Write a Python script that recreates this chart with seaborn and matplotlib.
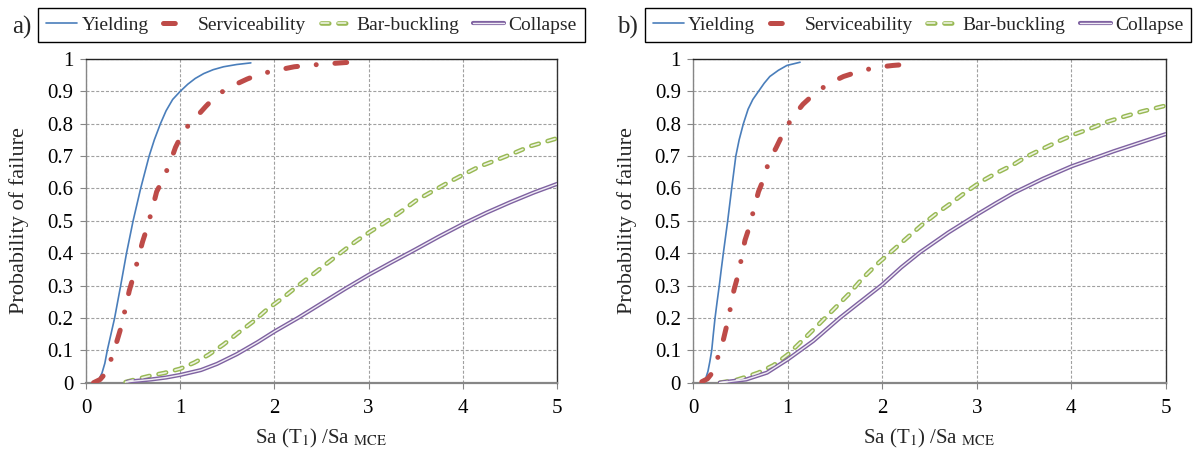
import matplotlib
matplotlib.use("Agg")
import matplotlib.pyplot as plt
import seaborn as sns
from matplotlib.lines import Line2D
from matplotlib.legend_handler import HandlerTuple

# ---------------- data ----------------
# panel a
ya_x = [0.10, 0.14, 0.17, 0.20, 0.226, 0.265, 0.304, 0.336, 0.368, 0.399, 0.43, 0.465, 0.50, 0.54, 0.58, 0.625, 0.67,
        0.725, 0.79, 0.85, 0.92, 1.00, 1.08, 1.16, 1.25, 1.35, 1.46, 1.60, 1.75]
ya_y = [0.002, 0.012, 0.03, 0.06, 0.10, 0.15, 0.20, 0.25, 0.30, 0.35, 0.40, 0.45, 0.50, 0.55, 0.60, 0.65, 0.70,
        0.75, 0.80, 0.84, 0.875, 0.90, 0.922, 0.94, 0.955, 0.967, 0.976, 0.983, 0.988]
sa_x = [0.08, 0.15, 0.21, 0.28, 0.33, 0.385, 0.42, 0.46, 0.51, 0.55, 0.60, 0.65, 0.70, 0.75, 0.82, 0.89, 0.95, 1.04,
        1.15, 1.27, 1.39, 1.54, 1.71, 1.85, 2.04, 2.21, 2.38, 2.56, 2.80]
sa_y = [0.0, 0.01, 0.03, 0.083, 0.13, 0.184, 0.233, 0.285, 0.335, 0.38, 0.435, 0.48, 0.533, 0.59, 0.63, 0.678, 0.727, 0.78,
        0.814, 0.853, 0.889, 0.915, 0.938, 0.954, 0.966, 0.976, 0.981, 0.985, 0.99]
ba_x = [0.42, 0.55, 0.69, 0.83, 1.00, 1.15, 1.30, 1.46, 1.62, 1.78, 1.92, 2.08, 2.24, 2.40, 2.56, 2.72, 2.86, 3.02, 3.16,
        3.34, 3.51, 3.67, 3.83, 4.00, 4.17, 4.36, 4.54, 4.72, 5.00]
ba_y = [0.002, 0.012, 0.022, 0.030, 0.043, 0.062, 0.086, 0.118, 0.155, 0.19, 0.226, 0.26, 0.297, 0.333, 0.369, 0.405,
        0.436, 0.467, 0.492, 0.528, 0.564, 0.590, 0.616, 0.642, 0.667, 0.688, 0.709, 0.731, 0.755]
ca_x = [0.44, 0.69, 0.85, 1.00, 1.22, 1.39, 1.60, 1.82, 2.00, 2.25, 2.50, 2.75, 3.00, 3.25, 3.50, 3.75, 4.00, 4.25,
        4.50, 4.75, 5.00]
ca_y = [0.003, 0.01, 0.016, 0.024, 0.039, 0.058, 0.088, 0.125, 0.158, 0.200, 0.245, 0.29, 0.333, 0.373, 0.412, 0.452,
        0.49, 0.525, 0.557, 0.587, 0.614]

# panel b
yb_x = [0.10, 0.13, 0.155, 0.175, 0.195, 0.212, 0.23, 0.252, 0.275, 0.296, 0.318, 0.341, 0.364, 0.385, 0.406, 0.428,
        0.45, 0.485, 0.53, 0.58, 0.63, 0.69, 0.75, 0.81, 0.90, 0.99, 1.13]
yb_y = [0.0, 0.012, 0.035, 0.065, 0.10, 0.15, 0.20, 0.25, 0.30, 0.35, 0.40, 0.45, 0.50, 0.55, 0.60, 0.65,
        0.70, 0.75, 0.80, 0.845, 0.875, 0.90, 0.925, 0.946, 0.965, 0.98, 0.99]
sb_x = [0.09, 0.15, 0.21, 0.265, 0.32, 0.36, 0.396, 0.43, 0.48, 0.512, 0.547, 0.60, 0.643, 0.69, 0.74, 0.80, 0.875,
        0.96, 1.05, 1.16, 1.29, 1.44, 1.59, 1.75, 1.93, 2.11, 2.28]
sb_y = [0.003, 0.012, 0.034, 0.083, 0.135, 0.184, 0.235, 0.286, 0.339, 0.388, 0.44, 0.487, 0.539, 0.59, 0.626, 0.684,
        0.725, 0.776, 0.82, 0.86, 0.895, 0.925, 0.946, 0.961, 0.974, 0.98, 0.984]
bb_x = [0.28, 0.45, 0.56, 0.69, 0.85, 1.00, 1.16, 1.32, 1.48, 1.64, 1.79, 1.94, 2.12, 2.28, 2.43, 2.58, 2.73, 2.89, 3.05,
        3.21, 3.39, 3.53, 3.70, 3.86, 4.04, 4.22, 4.39, 4.57, 4.75, 5.00]
bb_y = [0.0, 0.008, 0.018, 0.031, 0.054, 0.087, 0.132, 0.178, 0.225, 0.272, 0.322, 0.365, 0.411, 0.452, 0.49, 0.524,
        0.555, 0.59, 0.622, 0.648, 0.674, 0.699, 0.723, 0.745, 0.768, 0.787, 0.807, 0.823, 0.838, 0.856]
cb_x = [0.28, 0.56, 0.78, 1.00, 1.27, 1.55, 1.75, 2.00, 2.20, 2.40, 2.70, 3.00, 3.20, 3.39, 3.70, 4.00, 4.45, 5.00]
cb_y = [0.0, 0.01, 0.031, 0.072, 0.129, 0.20, 0.246, 0.303, 0.356, 0.403, 0.464, 0.519, 0.554, 0.586, 0.630, 0.668,
        0.715, 0.768]

series_names = ["Yielding", "Serviceability", "Bar-buckling", "Collapse"]
panel_labels = ["a)", "b)"]
x_ticks = [0, 1, 2, 3, 4, 5]
y_ticks = [0, 0.1, 0.2, 0.3, 0.4, 0.5, 0.6, 0.7, 0.8, 0.9, 1]
y_label = "Probability of failure"
x_label = r"Sa (T$_1$) /Sa $_{\mathrm{MCE}}$"

panels = [
    dict(y=(ya_x, ya_y), s=(sa_x, sa_y), b=(ba_x, ba_y), c=(ca_x, ca_y)),
    dict(y=(yb_x, yb_y), s=(sb_x, sb_y), b=(bb_x, bb_y), c=(cb_x, cb_y)),
]

# ---------------- style ----------------
sns.set_theme(style="white")
plt.rcParams["font.family"] = ["Liberation Serif", "DejaVu Serif"]
plt.rcParams["mathtext.fontset"] = "stix"
plt.rcParams["lines.scale_dashes"] = False

C_BLUE = "#4A7EBB"
C_RED = "#BE4B48"
C_GREEN = "#98B954"
C_GREEN_IN = "#EEF3E2"
C_PURPLE = "#7F62A1"
C_PURPLE_IN = "#F0ECF5"

W, H = 1195, 455
fig = plt.figure(figsize=(W / 100, H / 100), dpi=100)
bottom = (H - 382.7) / H
height = 323.7 / H
ax_a = fig.add_axes([86 / W, bottom, 471 / W, height])
ax_b = fig.add_axes([693.3 / W, bottom, 472.4 / W, height])
axes = [ax_a, ax_b]

legend_cx = [(311.5 - 86) / 471, (918 - 693.3) / 472.4]
ylabel_x = [(19 - 86) / 471, (627 - 693.3) / 472.4]
panel_label_x = [22, 627]

for i, (ax, d) in enumerate(zip(axes, panels)):
    ax.set_axisbelow(True)
    ax.grid(True, color="#A0A0A0", linestyle=(0, (2.2, 1.3)), linewidth=0.8)

    sns.lineplot(x=d["y"][0], y=d["y"][1], ax=ax, color=C_BLUE, linewidth=1.2,
                 estimator=None, sort=False, zorder=3)
    sns.lineplot(x=d["s"][0], y=d["s"][1], ax=ax, color=C_RED, linewidth=3.6,
                 linestyle=(0, (8.5, 13.5, 0.01, 13.5)), dash_capstyle="round",
                 estimator=None, sort=False, zorder=4)
    sns.lineplot(x=d["b"][0], y=d["b"][1], ax=ax, color=C_GREEN, linewidth=3.3,
                 linestyle=(0, (5.6, 6.6)), dash_capstyle="round",
                 estimator=None, sort=False, zorder=3)
    sns.lineplot(x=d["b"][0], y=d["b"][1], ax=ax, color=C_GREEN_IN, linewidth=1.2,
                 linestyle=(0, (5.6, 6.6)), dash_capstyle="round",
                 estimator=None, sort=False, zorder=3.1)
    sns.lineplot(x=d["c"][0], y=d["c"][1], ax=ax, color=C_PURPLE, linewidth=3.0,
                 estimator=None, sort=False, zorder=3)
    sns.lineplot(x=d["c"][0], y=d["c"][1], ax=ax, color=C_PURPLE_IN, linewidth=1.0,
                 estimator=None, sort=False, zorder=3.1)

    lines = ax.get_lines()
    serv_proxy = Line2D([], [], color=C_RED, linewidth=3.6, linestyle=(0, (8.5, 40)),
                        dash_capstyle="round")
    handles = [lines[0], serv_proxy, (lines[2], lines[3]), (lines[4], lines[5])]

    ax.set_xlim(0, 5)
    ax.set_ylim(0, 1)
    ax.set_xticks(x_ticks)
    ax.set_xticklabels([f"{v:g}" for v in x_ticks])
    ax.set_yticks(y_ticks)
    ax.set_yticklabels([f"{v:g}" for v in y_ticks])
    ax.tick_params(axis="both", which="both", direction="out", length=4, width=0.8,
                   color="#868686", labelsize=15, colors="black")
    ax.tick_params(axis="y", pad=5, left=True)
    ax.tick_params(axis="x", pad=8, bottom=True)

    ax.spines["left"].set_color("#868686")
    ax.spines["left"].set_linewidth(1.0)
    ax.spines["bottom"].set_color("#868686")
    ax.spines["bottom"].set_linewidth(1.6)
    ax.spines["top"].set_color("#222222")
    ax.spines["top"].set_linewidth(1.0)
    ax.spines["right"].set_color("#333333")
    ax.spines["right"].set_linewidth(1.0)
    for s in ax.spines.values():
        s.set_visible(True)

    ax.set_ylabel(y_label, fontsize=16, va="center")
    ax.yaxis.set_label_coords(ylabel_x[i], 0.5)
    ax.set_xlabel(x_label, fontsize=15, va="center")
    ax.xaxis.set_label_coords(0.499, (382.7 - 438) / 323.7)

    leg = ax.legend(handles, series_names, loc="center", ncol=4,
                    bbox_to_anchor=(legend_cx[i], (382.7 - 25) / 323.7),
                    fontsize=14, frameon=True, fancybox=False, framealpha=1,
                    edgecolor="black", handlelength=1.6, handletextpad=0.2,
                    columnspacing=0.75, borderpad=0.42, borderaxespad=0,
                    handler_map={tuple: HandlerTuple(ndivide=1)})
    leg.get_frame().set_linewidth(1.0)

    fig.text(panel_label_x[i] / W, 1 - 27 / H, panel_labels[i], fontsize=18,
             ha="center", va="center")

fig.savefig("out.png", dpi=100)
